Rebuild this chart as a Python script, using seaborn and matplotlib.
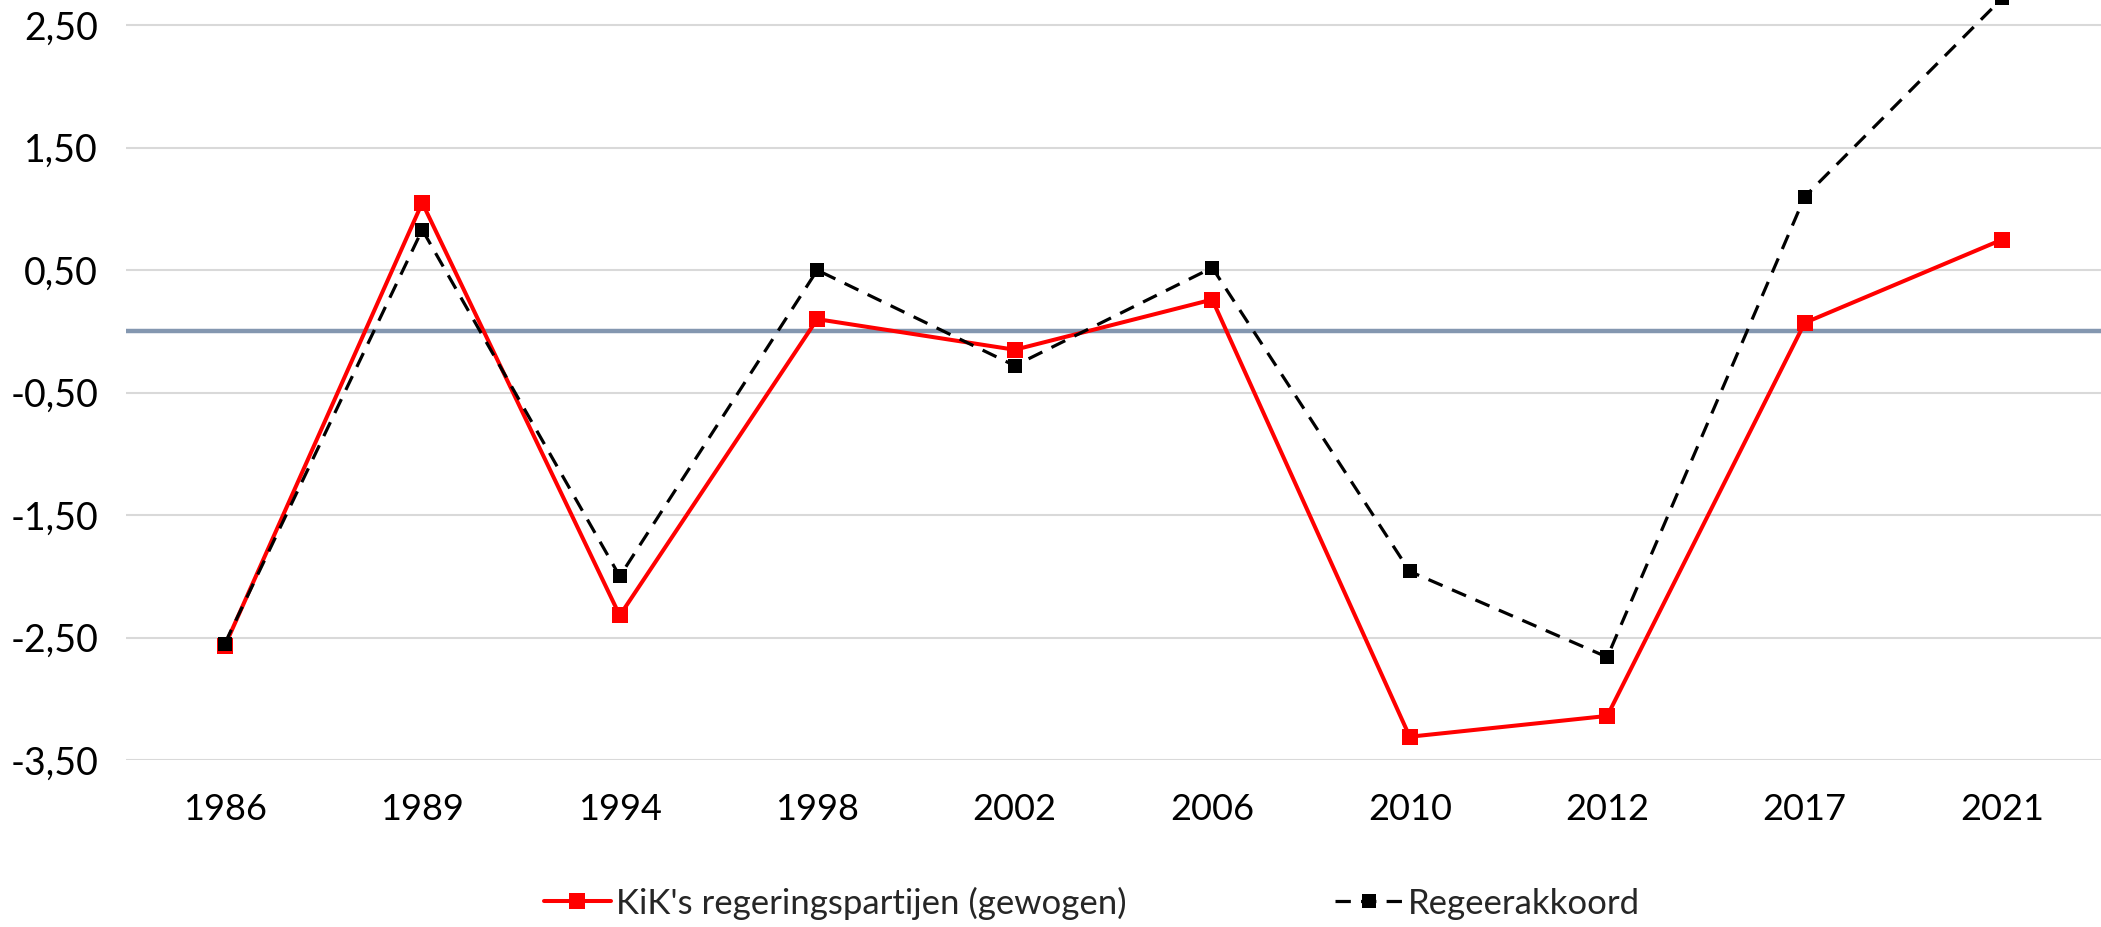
import matplotlib
matplotlib.use('Agg')
import matplotlib.pyplot as plt
import seaborn as sns
import pandas as pd
from matplotlib.ticker import FuncFormatter

# data
years = ['1986', '1989', '1994', '1998', '2002', '2006', '2010', '2012', '2017', '2021']
kik = [-2.57, 1.05, -2.32, 0.10, -0.15, 0.26, -3.31, -3.14, 0.07, 0.75]
akkoord = [-2.55, 0.83, -2.00, 0.50, -0.28, 0.52, -1.96, -2.66, 1.10, 2.72]
y_ticks = [-3.5, -2.5, -1.5, -0.5, 0.5, 1.5, 2.5]

df = pd.DataFrame({'pos': range(len(years)), 'jaar': years,
                   'kik': kik, 'akkoord': akkoord})

sns.set_style('white')
plt.rcParams['font.family'] = ['Lato', 'DejaVu Sans']

fig = plt.figure(figsize=(21.01, 9.27), dpi=100)
ax = fig.add_axes([126 / 2101, 1 - 760 / 927, 1 - 126 / 2101, 760 / 927])

# grid + zero line
for t in y_ticks:
    ax.axhline(t, color='#d9d9d9', lw=1.5, zorder=0)
ax.axhline(0, color='#8497b0', lw=3.2, zorder=1)

sns.lineplot(data=df, x='pos', y='kik', ax=ax, color='#ff0000', lw=2.9,
             marker='s', markersize=12, markeredgewidth=0,
             label="KiK's regeringspartijen (gewogen)", zorder=3)
sns.lineplot(data=df, x='pos', y='akkoord', ax=ax, color='black', lw=2.3,
             linestyle=(0, (4.8, 3.2)), marker='s', markersize=10,
             markeredgewidth=0, label='Regeerakkoord', zorder=4)

ax.set_xlim(-0.5, 9.5)
ax.set_ylim(-3.5, 2.706)
ax.set_xticks(df['pos'])
ax.set_xticklabels(years)
ax.set_yticks(y_ticks)
ax.yaxis.set_major_formatter(FuncFormatter(lambda v, p: f'{v:.2f}'.replace('.', ',')))
ax.tick_params(axis='both', length=0, labelsize=26, colors='black')
ax.tick_params(axis='x', pad=24)
ax.tick_params(axis='y', pad=20, labelsize=27)
ax.set_xlabel('')
ax.set_ylabel('')
for s in ax.spines.values():
    s.set_visible(False)

ax.get_legend().remove()
h, l = ax.get_legend_handles_labels()
fig.legend(h, l, ncol=2, loc='center', bbox_to_anchor=(1092 / 2101, 1 - 903 / 927),
           frameon=False, fontsize=25, handlelength=1.95, handletextpad=0.15,
           columnspacing=6.0)

fig.savefig('out.png', dpi=100)
